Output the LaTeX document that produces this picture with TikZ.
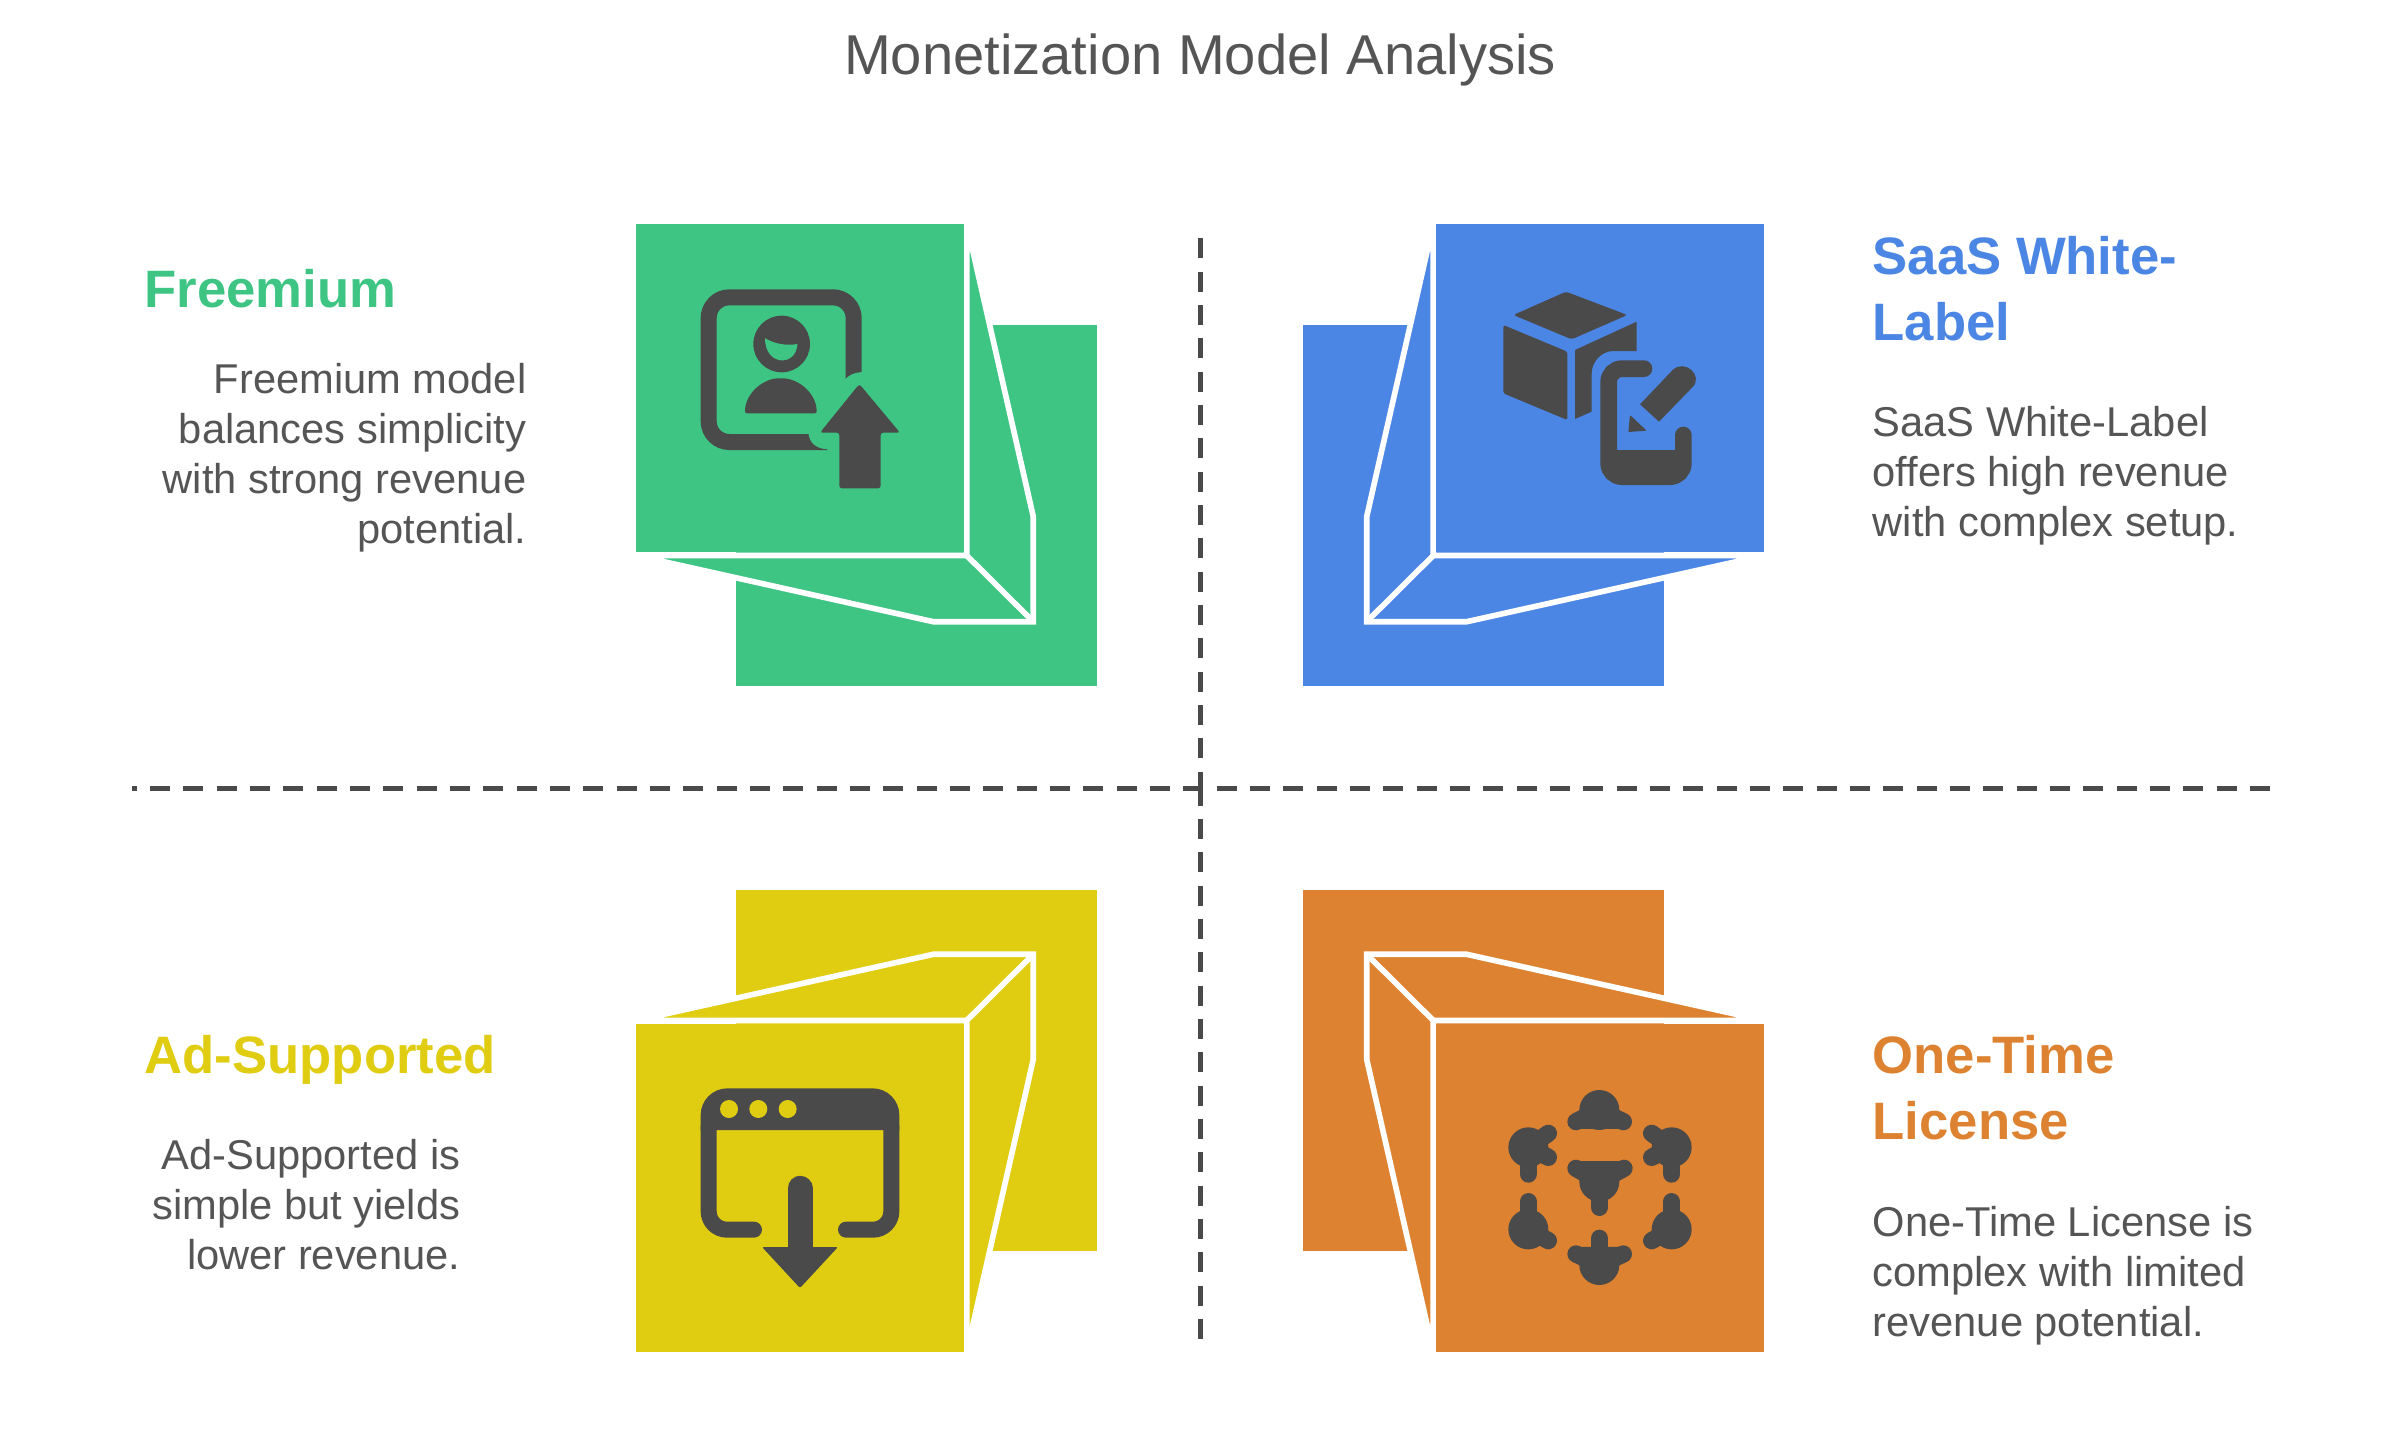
\documentclass[tikz,border=0pt]{standalone}
\usepackage{fontspec}
\setmainfont{Liberation Sans}
\definecolor{cgreen}{HTML}{3EC584}
\definecolor{cblue}{HTML}{4C86E4}
\definecolor{cyellow}{HTML}{E0CD12}
\definecolor{corange}{HTML}{DD8230}
\definecolor{cdark}{HTML}{4A4A4A}
\definecolor{ctext}{HTML}{555555}
\newcommand{\foldbox}[3]{%
  \begin{scope}[shift={(1200,788)},xscale=#2,yscale=#3]
    \fill[#1] (-464,-463) rectangle (-103,-102);
    \draw[white,line width=1.7pt,fill=#1,miter limit=30]
      (-233.3,-564) -- (-166.7,-271.3) -- (-166.7,-166.3) -- (-266.7,-166.3)
      -- (-564,-232.5) -- (-233.3,-232.5) -- cycle;
    \draw[white,line width=1.7pt] (-233.3,-232.5) -- (-166.7,-166.3);
    \fill[#1] (-564,-564) rectangle (-236,-236);
  \end{scope}}
\newcommand{\lobes}[2]{%
  \fill #1 circle[radius=60];
  \foreach \p in {#2}{\draw[line width=5.2pt,line cap=round,cdark] #1 -- \p;}}
\newcommand{\hull}[3]{%
  \filldraw[draw=cdark,fill=cdark,line width=4.3pt,line join=round] #1 -- #2 -- #3 -- cycle;}
\tikzset{
  x=0.3pt,y=-0.3pt,
  titletext/.style={inner sep=0pt,text=ctext,font=\fontsize{16.85}{20}\selectfont},
  headtext/.style={inner sep=0pt,font=\fontsize{15.8}{19.8}\bfseries\selectfont},
  desctext/.style={inner sep=0pt,text=ctext,font=\fontsize{12.5}{15}\selectfont},
  divider/.style={cdark,line width=1.5pt,dash pattern=on 6pt off 4pt},
  iconscope/.style={scale=0.33333},
}
\begin{document}
\begin{tikzpicture}
\useasboundingbox (0,0) rectangle (2400,1440);
\fill[white] (0,0) rectangle (2400,1440);
\foldbox{cgreen}{1}{1}
\foldbox{cblue}{-1}{1}
\foldbox{cyellow}{1}{-1}
\foldbox{corange}{-1}{-1}

% dividers
\coordinate (vt) at (1200,238.3);
\coordinate (vm) at (1200,788);
\coordinate (vn) at (1200,785.5);
\coordinate (vb) at (1200,1340);
\coordinate (hl) at (132,788);
\coordinate (hr) at (2270,788);
\draw[divider] (vt) -- (vm);
\draw[divider] (vn) -- (vb);
\draw[divider,dash phase=4.6pt] (hl) -- (hr);

% green icon
\begin{scope}[shift={(680,270)},iconscope]
  \draw[cdark,line width=4.8pt,rounded corners=6.2pt]
    (521,335) -- (521,82) -- (86,82) -- (86,516) -- (442,516);
  \fill[cgreen] (495,328) .. controls (510,312) and (525,308) .. (548,306) -- (548,350) -- (495,350) -- cycle;
  \fill[cgreen] (385,488) .. controls (388,520) and (410,537) .. (445,538) -- (445,485) -- cycle;
  \fill[cdark] (305,222) circle[radius=85];
  \fill[cgreen] (255,205) .. controls (285,222) and (320,228) .. (352,222)
     .. controls (350,290) and (255,290) .. (255,205) -- cycle;
  \fill[cdark,rounded corners=0.6pt] (195,430) .. controls (195,370) and (250,325) .. (302,325)
     .. controls (355,325) and (410,370) .. (410,430) -- cycle;
  \fill[cdark,rounded corners=0.8pt] (538,342) -- (660,488) -- (602,488) -- (602,655)
     -- (478,655) -- (478,488) -- (420,488) -- cycle;
\end{scope}

% blue icon
\begin{scope}[shift={(1480,270)},iconscope]
  \fill[cdark,rounded corners=0.8pt] (100,135) -- (258,65) -- (442,135) -- (275,208) -- cycle;
  \fill[cdark,rounded corners=0.5pt] (70,165) -- (262,245) -- (262,450) -- (70,370) -- cycle;
  \fill[cdark] (285,240) -- (470,155) -- (470,243) -- (400,243)
     .. controls (365,243) and (335,275) .. (335,310) -- (335,425) -- (285,447) -- cycle;
  \draw[cdark,line width=5pt,line cap=round,rounded corners=4pt]
    (492,296) -- (386,296) -- (386,620) -- (610,620) -- (610,495);
  \fill[cdark] (400,540) rectangle (600,630);
  \fill[cdark] (578,300) .. controls (615,265) and (672,318) .. (637,352) -- (537,455) -- (480,403) -- cycle;
  \fill[cdark,rounded corners=0.3pt] (450,435) -- (500,482) -- (445,486) -- cycle;
\end{scope}

% yellow icon
\begin{scope}[shift={(680,1070)},iconscope]
  \draw[cdark,line width=4.8pt,line cap=round,rounded corners=5.5pt]
    (222,479) -- (86,479) -- (86,170) (634,170) -- (634,479) -- (498,479);
  \fill[cdark] (62,180) -- (62,135) .. controls (62,91) and (98,55) .. (142,55) -- (578,55)
     .. controls (622,55) and (658,91) .. (658,135) -- (658,180) -- cycle;
  \fill[cyellow] (147,117) circle[radius=27] (235,117) circle[radius=27] (323,117) circle[radius=27];
  \draw[cdark,line width=7.5pt,line cap=round] (360,355) -- (360,545);
  \fill[cdark,rounded corners=0.6pt] (246,531) -- (474,531) -- (360,654) -- cycle;
\end{scope}

% orange icon
\begin{scope}[shift={(1480,1070)},iconscope,fill=cdark]
  \hull{(358,125)}{(288,155)}{(430,155)}
  \lobes{(358,120)}{(288,155),(430,155)}
  \lobes{(145,232)}{(205,190),(205,262),(145,312)}
  \lobes{(575,232)}{(515,190),(515,262),(575,312)}
  \hull{(358,330)}{(288,295)}{(432,295)}
  \lobes{(358,335)}{(288,295),(432,295),(358,412)}
  \lobes{(145,478)}{(145,395),(205,512)}
  \lobes{(575,478)}{(575,395),(515,512)}
  \hull{(358,580)}{(288,552)}{(430,552)}
  \lobes{(358,585)}{(288,552),(430,552),(358,505)}
\end{scope}

% texts
\node[titletext,anchor=base] (title) at (1200,74) {Monetization Model Analysis};
\node[headtext,text=cgreen,anchor=base west] (h1) at (144,307) {Freemium};
\node[desctext,align=right,anchor=base east] (d1) at (527,543) {Freemium model\\balances simplicity\\with strong revenue\\potential.};
\node[headtext,text=cblue,align=left,anchor=base west] (h2) at (1872,340) {SaaS White-\\Label};
\node[desctext,align=left,anchor=base west] (d2) at (1872,536) {SaaS White-Label\\offers high revenue\\with complex setup.};
\node[headtext,text=cyellow,anchor=base west] (h3) at (144,1073) {Ad-Supported};
\node[desctext,align=right,anchor=base east] (d3) at (461,1269) {Ad-Supported is\\simple but yields\\lower revenue.};
\node[headtext,text=corange,align=left,anchor=base west] (h4) at (1872,1139) {One-Time\\License};
\node[desctext,align=left,anchor=base west] (d4) at (1872,1336) {One-Time License is\\complex with limited\\revenue potential.};
\end{tikzpicture}
\end{document}
